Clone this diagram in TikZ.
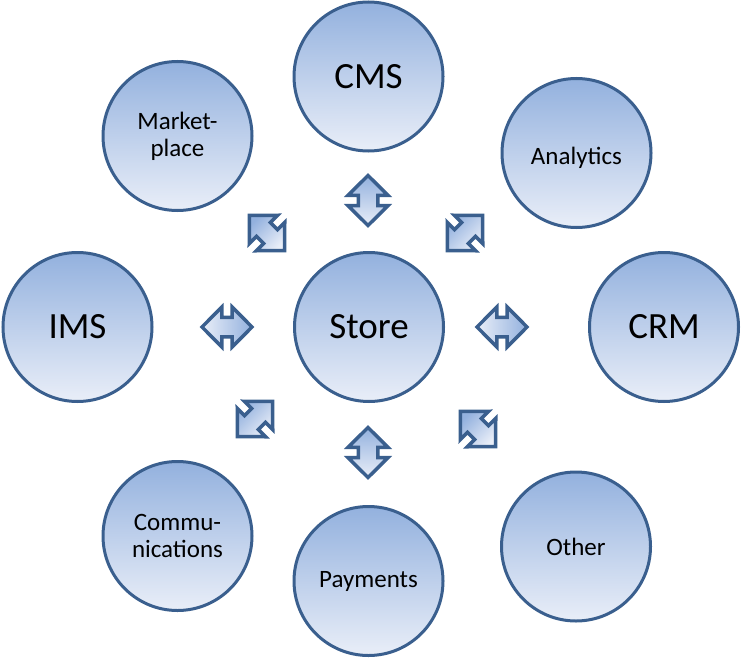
\documentclass[tikz,border=0pt]{standalone}
\usepackage{fontspec}
\setmainfont{Carlito}

\definecolor{Cedge}{HTML}{3A5F8E}
\definecolor{Ctop}{HTML}{93B1DE}
\definecolor{Cbot}{HTML}{E9EEF8}

\newcommand{\hubbig}{\fontsize{37}{44}\selectfont}
\newcommand{\hubsmall}{\fontsize{25}{27}\selectfont}

\tikzset{
  hub/.style={circle,draw=Cedge,line width=3pt,minimum size=149pt,inner sep=0pt,
    top color=Ctop,bottom color=Cbot,align=center,text=black},
  hubbig/.style={hub,font=\hubbig},
  hubsmall/.style={hub,font=\hubsmall},
  blockarrow/.style={draw=Cedge,line width=3.5pt,line join=miter,
    top color=Ctop,bottom color=Cbot}
}

\begin{document}
\begin{tikzpicture}[x=1pt,y=-1pt]
	\useasboundingbox (0,0) rectangle (741,658);
	% circles
	\node[hubbig]   (store)     at (369,327)     {Store};
	\node[hubbig]   (cms)       at (368.5,76.5)  {CMS};
	\node[hubsmall] (market)    at (177.5,136)   {Market-\\place};
	\node[hubsmall,text height=22pt,text depth=0pt]
	                (analytics) at (576.5,153)   {Analytics};
	\node[hubbig]   (ims)       at (77.5,327)    {IMS};
	\node[hubbig]   (crm)       at (664,327)     {CRM};
	\node[hubsmall] (comm)      at (177.5,536)   {Commu-\\nications};
	\node[hubsmall] (pay)       at (368.5,581)   {Payments};
	\node[hubsmall] (other)     at (576,546.5)   {Other};
	% double block arrows
	\foreach \ax/\ay/\rot/\sha in {368/200.5/0/0,368/452.5/0/0,
			227/327/90/-90,502/327/90/-90,267/233/45/45,478/429/45/45,
			465/233/-45/45,255/419/-45/45}{
		\path[blockarrow,shading angle=\sha,shift={(\ax,\ay)},rotate=\rot]
		(0,-25) -- (20,-5.1) -- (9.75,-5.1) -- (9.75,5.1) -- (20,5.1)
		-- (0,25) -- (-20,5.1) -- (-9.75,5.1) -- (-9.75,-5.1)
		-- (-20,-5.1) -- cycle;}
\end{tikzpicture}
\end{document}
